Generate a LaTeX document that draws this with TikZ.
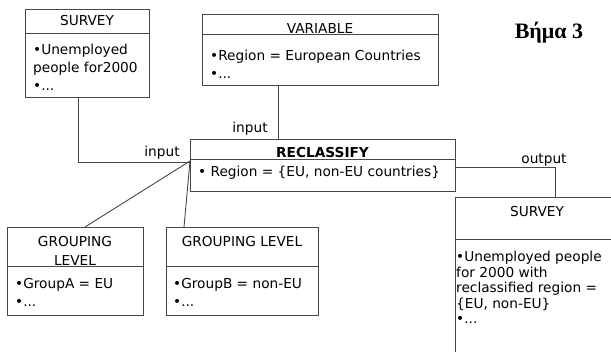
\documentclass[tikz,border=0pt]{standalone}
\usepackage{fontspec}
\setmainfont{DejaVu Sans}
\newfontfamily\titlefont{Liberation Serif}
\usetikzlibrary{calc}
\begin{document}
\begin{tikzpicture}[x=1pt,y=-1pt,
  box/.style={draw=black!72, line width=0.9pt, anchor=north west, inner sep=0pt, outer sep=0pt},
  hdr/.style={font=\fontsize{13.7}{15}\selectfont, inner sep=0pt, anchor=base},
  body/.style={font=\fontsize{13.7}{18}\selectfont, align=left, anchor=north west, inner sep=0pt},
  conn/.style={draw=black!72, line width=0.9pt},
  lbl/.style={font=\fontsize{13.7}{15}\selectfont, inner sep=0pt, anchor=base}]
\clip (0,0) rectangle (611,352);
% boxes
\node[box, minimum width=124, minimum height=88] (s1) at (25,9) {};
\draw[conn] ($(s1.north west)+(0,24)$) -- ($(s1.north east)+(0,24)$);
\node[hdr] at ($(s1.north)+(0,17)$) {SURVEY};
\node[body] at ($(s1.north west)+(8,35)$) {•Unemployed\\people for2000\\•...};

\node[box, minimum width=236, minimum height=71] (var) at (202,14) {};
\draw[conn] ($(var.north west)+(0,20)$) -- ($(var.north east)+(0,20)$);
\node[hdr] at ($(var.north)+(0,20)$) {VARIABLE};
\node[body, font=\fontsize{13.7}{17.5}\selectfont] at ($(var.north west)+(8,36)$) {•Region = European Countries\\•...};

\node[box, minimum width=265, minimum height=52] (rc) at (190,139) {};
\draw[conn] ($(rc.north west)+(0,20)$) -- ($(rc.north east)+(0,20)$);
\node[hdr, font=\fontsize{13.7}{15}\selectfont\bfseries] at ($(rc.north)+(0,19)$) {RECLASSIFY};
\node[hdr, anchor=base west] at ($(rc.north west)+(8,38)$) {• Region = \{EU, non-EU countries\}};

\node[box, minimum width=136, minimum height=88] (gla) at (7,227) {};
\draw[conn] ($(gla.north west)+(0,39)$) -- ($(gla.north east)+(0,39)$);
\node[hdr] at ($(gla.north)+(0,20)$) {GROUPING};
\node[hdr] at ($(gla.north)+(0,39)$) {LEVEL};
\node[body] at ($(gla.north west)+(8,51)$) {•GroupA = EU\\•...};

\node[box, minimum width=152, minimum height=88] (glb) at (166,227) {};
\draw[conn] ($(glb.north west)+(0,39)$) -- ($(glb.north east)+(0,39)$);
\node[hdr] at ($(glb.north)+(0,20)$) {GROUPING LEVEL};
\node[body] at ($(glb.north west)+(7,51)$) {•GroupB = non-EU\\•...};

\node[box, minimum width=164, minimum height=170] (out) at (455,197) {};
\draw[conn] ($(out.north west)+(0,42)$) -- ($(out.north east)+(0,42)$);
\node[hdr] at ($(out.north)+(0,20)$) {SURVEY};
\node[body, font=\fontsize{13.7}{15.5}\selectfont] at ($(out.north west)+(1,54)$) {•Unemployed people\\for 2000 with\\reclassified region =\\\{EU, non-EU\}\\•...};

% connectors
\draw[conn] ($(s1.south west)+(53,0)$) |- ($(rc.north west)+(0,23)$);
\node[lbl] (l1) at (162,157) {input};
\draw[conn] ($(var.south west)+(76,0)$) -- ($(rc.north west)+(88,0)$);
\node[lbl] (l2) at (250,133) {input};
\draw[conn] ($(rc.north east)+(0,28)$) -| ($(out.north west)+(100,0)$);
\node[lbl] (l3) at (544,164) {output};
\draw[conn] ($(gla.north west)+(78,0)$) -- ($(rc.north west)+(0,22)$);
\draw[conn] ($(glb.north west)+(18,0)$) -- ($(rc.north west)+(0,22)$);

% title
\node[font=\titlefont\bfseries\fontsize{22}{24}\selectfont, anchor=base, inner sep=0pt] (t) at (549,39) {Βήμα 3};
\end{tikzpicture}
\end{document}
